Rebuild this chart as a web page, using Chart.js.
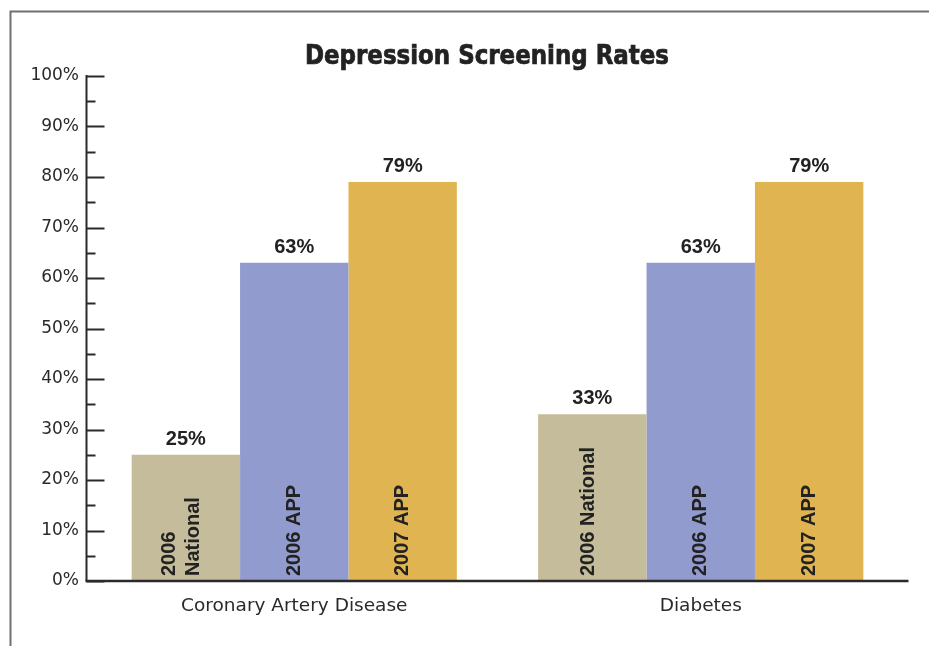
<!DOCTYPE html>
<html>
<head>
<meta charset="utf-8">
<script src="https://cdn.jsdelivr.net/npm/chart.js@4/dist/chart.umd.min.js"></script>
<style>
  html, body { margin: 0; padding: 0; background: #fff; }
  #wrap { width: 929px; height: 646px; position: relative; }
</style>
</head>
<body>
<div id="wrap"><canvas id="c" width="929" height="646"></canvas></div>
<script>
// Depression screening rates by condition
const chartTitle = 'Depression Screening Rates';
const categories = ['Coronary Artery Disease', 'Diabetes'];
const seriesNames = ['2006 National', '2006 APP', '2007 APP'];
const national2006 = [25, 33];
const app2006 = [63, 63];
const app2007 = [79, 79];
const yTicks = [0, 10, 20, 30, 40, 50, 60, 70, 80, 90, 100];

const seriesColors = ['#C5BC9B', '#929BCE', '#E1B452'];
const ink = '#222222';

// frame, axes with inward ticks, title and bar labels
const decorations = {
  id: 'decorations',
  beforeDraw(chart) {
    const ctx = chart.ctx;
    ctx.save();
    ctx.strokeStyle = '#707070';
    ctx.lineWidth = 2;
    ctx.beginPath();
    ctx.moveTo(10.5, 646);
    ctx.lineTo(10.5, 11.5);
    ctx.lineTo(929, 11.5);
    ctx.stroke();

    // heavy condensed heading
    ctx.fillStyle = ink;
    ctx.strokeStyle = ink;
    ctx.lineWidth = 0.7;
    ctx.font = "bold 27px 'Liberation Sans Narrow', 'DejaVu Sans Condensed', 'Liberation Sans', sans-serif";
    ctx.textAlign = 'center';
    ctx.textBaseline = 'alphabetic';
    const w = ctx.measureText(chartTitle).width;
    const sx = Math.min(1, 364 / w);
    ctx.translate(487, 64);
    ctx.scale(sx, 1);
    ctx.fillText(chartTitle, 0, 0);
    ctx.strokeText(chartTitle, 0, 0);
    ctx.restore();
  },
  afterDatasetsDraw(chart) {
    const ctx = chart.ctx;
    const y = chart.scales.y;
    const area = chart.chartArea;
    const axisX = area.left - 4.5;
    ctx.save();
    ctx.strokeStyle = '#2a2a2a';
    ctx.lineWidth = 2;
    ctx.beginPath();
    ctx.moveTo(axisX, y.getPixelForValue(100) - 1);
    ctx.lineTo(axisX, y.getPixelForValue(0));
    ctx.stroke();
    for (let v = 0; v <= 100; v += 5) {
      const py = Math.round(y.getPixelForValue(v)) + 0.5;
      const len = v % 10 === 0 ? 18 : 9;
      ctx.beginPath();
      ctx.moveTo(axisX, py);
      ctx.lineTo(axisX + len, py);
      ctx.stroke();
    }
    ctx.beginPath();
    ctx.lineWidth = 2.5;
    ctx.moveTo(axisX - 1, y.getPixelForValue(0));
    ctx.lineTo(area.right + 4.5, y.getPixelForValue(0));
    ctx.stroke();

    ctx.fillStyle = ink;
    chart.data.datasets.forEach((ds, di) => {
      const meta = chart.getDatasetMeta(di);
      meta.data.forEach((bar, i) => {
        const val = ds.data[i];
        ctx.font = "bold 20px 'Liberation Sans', Arial, sans-serif";
        ctx.textAlign = 'center';
        ctx.textBaseline = 'alphabetic';
        ctx.fillText(val + '%', bar.x, bar.y - 10);

        // series name inside the bar, rotated, wrapped if too tall
        const base = bar.base - 5;
        const room = bar.base - bar.y - 12;
        const name = ds.label;
        let lines = [name];
        if (ctx.measureText(name).width > room) lines = name.split(' ');
        const lh = 24;
        const shift = di === 0 ? -4 : 0;
        ctx.save();
        ctx.translate(bar.x + shift, base);
        ctx.rotate(-Math.PI / 2);
        ctx.textAlign = 'left';
        ctx.textBaseline = 'middle';
        lines.forEach((ln, k) => {
          const off = (k - (lines.length - 1) / 2) * lh;
          ctx.fillText(ln, 0, off);
        });
        ctx.restore();
      });
    });
    ctx.restore();
  }
};

new Chart(document.getElementById('c'), {
  type: 'bar',
  data: {
    labels: categories,
    datasets: [
      { label: seriesNames[0], data: national2006, backgroundColor: seriesColors[0] },
      { label: seriesNames[1], data: app2006, backgroundColor: seriesColors[1] },
      { label: seriesNames[2], data: app2007, backgroundColor: seriesColors[2] }
    ]
  },
  options: {
    responsive: false,
    animation: false,
    events: [],
    layout: { padding: { left: 0, right: 25, top: 76, bottom: 0 } },
    datasets: { bar: { categoryPercentage: 0.8, barPercentage: 1.0, borderWidth: 0 } },
    plugins: {
      legend: { display: false },
      title: { display: false },
      tooltip: { enabled: false }
    },
    scales: {
      x: {
        grid: { display: false, drawTicks: false },
        border: { display: false },
        ticks: {
          color: '#2a2a2a',
          padding: 14,
          font: { family: "'DejaVu Sans', sans-serif", size: 18.5 }
        },
        afterFit(scale) { scale.height = 65; }
      },
      y: {
        min: 0,
        max: 100,
        grid: { display: false, drawTicks: false },
        border: { display: false },
        afterBuildTicks(scale) { scale.ticks = yTicks.map(v => ({ value: v })); },
        ticks: {
          color: '#2a2a2a',
          padding: 12,
          font: { family: "'DejaVu Sans', sans-serif", size: 17 },
          callback: v => v + '%'
        },
        afterFit(scale) { scale.width = 91; }
      }
    }
  },
  plugins: [decorations]
});
</script>
</body>
</html>
